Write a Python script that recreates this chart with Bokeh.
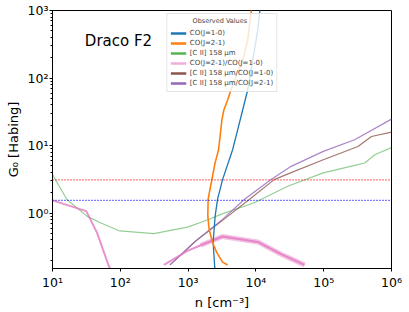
from bokeh.plotting import figure
from bokeh.models import Span, Label, Legend, LegendItem, FixedTicker
from bokeh.embed import file_html
from bokeh.resources import INLINE

# ---- data ----
co10_n = [2477, 2338, 2505, 2718, 3222, 4535, 5380, 6380, 7570, 8980, 10640, 11910]
co10_g = [0.153, 0.37, 0.90, 1.59, 3.13, 8.67, 17.1, 33.6, 66.4, 184, 507, 1400]

co21_n = [3830, 3222, 2630, 2290, 2040, 1954, 1973, 2240, 2505, 2812, 3040, 3150, 3370, 3830, 4280, 6380, 7570, 8190, 8980]
co21_g = [0.17, 0.188, 0.264, 0.37, 0.575, 0.90, 1.59, 3.13, 5.58, 8.67, 17.1, 24.0, 33.6, 47.3, 66.4, 184, 361, 713, 1400]

cii_n = [10, 16.3, 32.2, 50.8, 98, 313, 977, 1930, 3040, 9460, 29500, 98500, 286000, 403000, 566000, 1e6]
cii_g = [3.71, 1.59, 0.90, 0.72, 0.543, 0.497, 0.62, 0.79, 0.955, 1.42, 2.5, 3.93, 5.09, 5.51, 7.31, 9.3]

ratio21_10_lo_n = [10, 31.5, 45.3, 67.5, 71.5]
ratio21_10_lo_g = [1.54, 1.07, 0.513, 0.166, 0.148]
ratio21_10_hi_n = [440, 977, 1538, 3222, 10640, 23500, 52100]
ratio21_10_hi_g = [0.171, 0.275, 0.334, 0.449, 0.374, 0.246, 0.171]

cii_co10_n = [541, 1297, 3222, 7980, 18600, 33100, 98600, 320000, 506000, 1e6]
cii_co10_g = [0.171, 0.385, 0.78, 1.59, 3.13, 3.97, 6.17, 9.7, 13.6, 15.8]

cii_co21_n = [541, 1297, 3222, 6730, 16750, 33100, 98600, 286000, 1e6]
cii_co21_g = [0.171, 0.387, 0.807, 1.59, 3.13, 4.92, 8.19, 12.2, 24.6]

g0_levels = [3.1, 1.54]
g0_colors = ["red", "blue"]

x_ticks = [1e1, 1e2, 1e3, 1e4, 1e5, 1e6]
x_labels = ["10¹", "10²", "10³", "10⁴", "10⁵", "10⁶"]
y_ticks = [1, 10, 100, 1000]
y_labels = ["10⁰", "10¹", "10²", "10³"]

labels = ["CO(J=1-0)", "CO(J=2-1)", "[C II] 158 \u03bcm", "CO(J=2-1)/CO(J=1-0)",
          "[C II] 158 \u03bcm/CO(J=1-0)", "[C II] 158 \u03bcm/CO(J=2-1)"]
colors = ["#1f77b4", "#ff7f0e", "#2ca02c", "#e377c2", "#8c564b", "#9467bd"]
series = [(co10_n, co10_g), (co21_n, co21_g), (cii_n, cii_g), (ratio21_10_hi_n, ratio21_10_hi_g),
          (cii_co10_n, cii_co10_g), (cii_co21_n, cii_co21_g)]

FONT = "DejaVu Sans"

p = figure(width=409, height=312, x_axis_type="log", y_axis_type="log",
           x_range=(10, 1e6), y_range=(0.151, 1000),
           output_backend="svg", toolbar_location=None,
           min_border_left=52, min_border_right=18, min_border_top=10, min_border_bottom=43)
p.grid.visible = False
p.outline_line_color = "black"
p.outline_line_width = 1

# axes
y_minor = [k * 10.0 ** e for e in range(-1, 3) for k in range(2, 10)]
p.xaxis.ticker = FixedTicker(ticks=x_ticks)
p.yaxis.ticker = FixedTicker(ticks=y_ticks, minor_ticks=y_minor)
p.xaxis.major_label_overrides = {t: l for t, l in zip(x_ticks, x_labels)}
p.yaxis.major_label_overrides = {t: l for t, l in zip(y_ticks, y_labels)}
for ax in (p.xaxis, p.yaxis):
    ax.major_label_text_font = FONT
    ax.major_label_text_font_size = "12.5px"
    ax.major_label_text_color = "black"
    ax.major_tick_out = 3
    ax.major_tick_in = 0
    ax.minor_tick_out = 2
    ax.minor_tick_in = 0
    ax.axis_line_color = "black"
    ax.axis_label_text_font = FONT
    ax.axis_label_text_font_size = "13px"
    ax.axis_label_text_font_style = "normal"
    ax.axis_label_text_color = "black"
p.xaxis.major_label_standoff = 3
p.yaxis.major_label_standoff = 1
p.xaxis.axis_label_standoff = 2
p.yaxis.axis_label_standoff = 4
p.xaxis.minor_tick_line_color = None
p.xaxis.axis_label = "n [cm\u207b\u00b3]"
p.yaxis.axis_label = "G\u2080 [Habing]"

# threshold lines
for lev, c in zip(g0_levels, g0_colors):
    p.add_layout(Span(location=lev, dimension="width", line_color=c, line_alpha=1.0,
                      line_width=1.2, line_dash="1 2"))

# curves
p.line(cii_n, cii_g, line_color=colors[2], line_alpha=0.5, line_width=1.2)
p.line(cii_co10_n, cii_co10_g, line_color=colors[4], line_alpha=0.8, line_width=1.2)
p.line(cii_co21_n, cii_co21_g, line_color=colors[5], line_alpha=0.8, line_width=1.2)
p.line(ratio21_10_lo_n, ratio21_10_lo_g, line_color=colors[3], line_alpha=0.8, line_width=2)
p.line(ratio21_10_hi_n, ratio21_10_hi_g, line_color=colors[3], line_alpha=0.8, line_width=2)
p.line(ratio21_10_hi_n[2:], ratio21_10_hi_g[2:], line_color=colors[3], line_alpha=0.45, line_width=5)
p.line(co10_n, co10_g, line_color=colors[0], line_width=1.3)
p.line(co21_n, co21_g, line_color=colors[1], line_width=1.6)

# legend (single-point proxy glyphs: draw nothing in the frame)
alphas = [1, 1, 0.8, 0.6, 1, 1]
items = []
for lab, c, a, (sn, sg) in zip(labels, colors, alphas, series):
    r = p.line(x=sn[:1], y=sg[:1], line_color=c, line_alpha=a, line_width=2.7)
    items.append(LegendItem(label=lab, renderers=[r]))
legend = Legend(items=items, location="top_center", margin=3, padding=3,
                title="\u00a0" * 11 + "Observed Values",
                title_text_font=FONT, title_text_font_size="6.5px", title_text_font_style="normal",
                title_standoff=3,
                label_text_font=FONT, label_text_font_size="7px",
                label_height=10, glyph_height=10, glyph_width=16, label_standoff=4, spacing=0,
                border_line_color="#cccccc", background_fill_alpha=0.8)
p.add_layout(legend)

p.add_layout(Label(x=30, y=350, text="Draco F2", text_font=FONT, text_font_size="15px",
                   text_baseline="middle", text_color="black"))

open("out.html", "w").write(file_html(p, INLINE))
